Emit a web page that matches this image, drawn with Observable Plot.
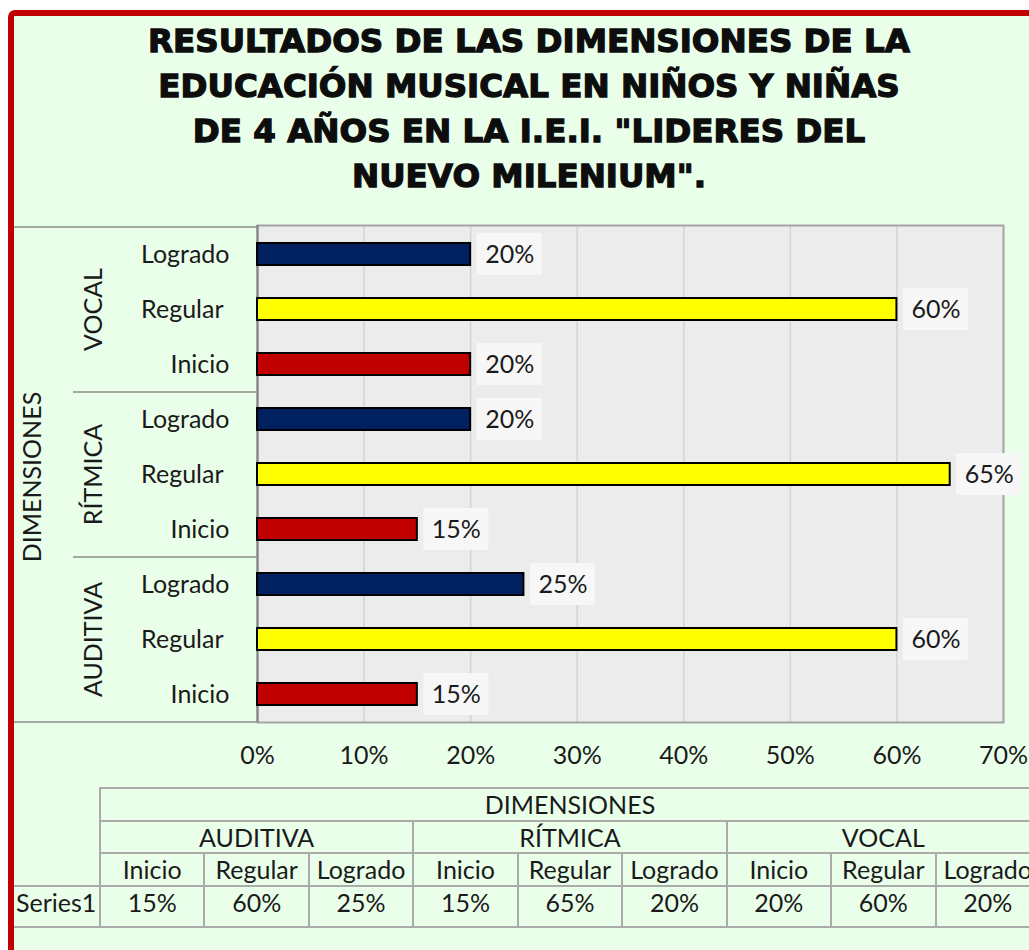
<!DOCTYPE html>
<html>
<head>
<meta charset="utf-8">
<script src="https://cdn.jsdelivr.net/npm/d3@7"></script>
<script src="https://cdn.jsdelivr.net/npm/@observablehq/plot@0.6"></script>
<style>
  html, body { margin: 0; padding: 0; }
  body { background: #ffffff; width: 1029px; height: 950px; overflow: hidden; position: relative; font-family: Lato, "Noto Sans", sans-serif; }
  #bg { position: absolute; left: 8px; top: 10px; width: 1100px; height: 1000px; background: #EAFFEA; border-top-left-radius: 7px; }
  #border { position: absolute; left: 8px; top: 10px; width: 1100px; height: 1000px; box-sizing: border-box;
            border-left: 6px solid #C00000; border-top: 6px solid #C00000; border-top-left-radius: 7px;
            pointer-events: none; z-index: 10; }
  #title { position: absolute; left: 14px; width: 1030px; top: 18.6px; text-align: center;
           font-family: "DejaVu Sans", sans-serif; font-weight: bold; font-size: 32.5px; line-height: 45.3px;
           color: #0d0d0d; -webkit-text-stroke: 1.3px #0d0d0d; white-space: nowrap; }
  #chart { position: absolute; left: 14px; top: 215px; }
  .cell { position: absolute; box-sizing: border-box; border: 2px solid #ABABAB; text-align: center;
          font-size: 25px; color: #1a1a1a; white-space: nowrap; overflow: hidden; }
</style>
</head>
<body>
<div id="bg"></div>
<div id="title"></div>
<div id="chart"></div>
<div id="table"></div>
<div id="border"></div>
<script>
// ---------- data ----------
const titleLines = [
  "RESULTADOS DE LAS DIMENSIONES DE LA",
  "EDUCACIÓN MUSICAL EN NIÑOS Y NIÑAS",
  "DE 4 AÑOS EN LA I.E.I. \"LIDERES DEL",
  "NUEVO MILENIUM\"."
];
const axisTitle = "DIMENSIONES";
const seriesName = "Series1";
const dimensions = ["AUDITIVA", "RÍTMICA", "VOCAL"];
const levels = ["Inicio", "Regular", "Logrado"];
const auditivaValues = [0.15, 0.60, 0.25];
const ritmicaValues = [0.15, 0.65, 0.20];
const vocalValues = [0.20, 0.60, 0.20];
const xTicks = [0, 0.1, 0.2, 0.3, 0.4, 0.5, 0.6, 0.7];
const levelColors = ["#C00000", "#FFFF00", "#002060"];

// ---------- build table ----------
const seriesByDim = [auditivaValues, ritmicaValues, vocalValues];
const rows = [];
dimensions.forEach((dim, di) => {
  levels.forEach((lev, li) => {
    rows.push({dim, level: lev, value: seriesByDim[di][li], key: dim + "|" + lev});
  });
});
const yDomain = rows.map(r => r.key).reverse(); // top to bottom: VOCAL Logrado ... AUDITIVA Inicio
const fmt = d3.format(".0%");

// ---------- title ----------
const titleEl = document.getElementById("title");
titleLines.forEach(t => { const d = document.createElement("div"); d.textContent = t; titleEl.appendChild(d); });

// ---------- chart ----------
const W = 1015, H = 565, mL = 243, mR = 26, mT = 10, mB = 58;
const plotW = W - mL - mR, plotH = H - mT - mB;
const pIn = 0.6, pOut = 0.3;
const step = plotH / (yDomain.length - pIn + 2 * pOut);
const groupTops = dimensions.map(d => d + "|" + levels[levels.length - 1]);
const innerTops = groupTops.filter(k => k !== yDomain[0]);
const lineStyle = {stroke: "#8C8C8C", strokeWidth: 1.5};

const chart = Plot.plot({
  width: W, height: H,
  marginLeft: mL, marginRight: mR, marginTop: mT, marginBottom: mB,
  style: {background: "transparent", fontFamily: "Lato, 'Noto Sans', sans-serif", fontSize: "25px", color: "#1a1a1a", overflow: "visible"},
  x: {domain: [0, 0.7], ticks: xTicks, tickFormat: fmt, tickSize: 0, tickPadding: 24, label: null},
  y: {domain: yDomain, paddingInner: pIn, paddingOuter: pOut, axis: null, label: null},
  color: {domain: levels, range: levelColors},
  marks: [
    Plot.frame({fill: "#ECECEC"}),
    Plot.ruleX(xTicks.slice(1, -1), {stroke: "#D4D4D4", strokeWidth: 1.5}),
    Plot.frame({stroke: "#A3A3A3", strokeWidth: 2}),
    Plot.ruleX([0], {stroke: "#7C887C", strokeWidth: 2}),
    // category axis separators
    Plot.ruleY([yDomain[0]], {y: d => d, dy: -step / 2, insetLeft: -mL, insetRight: plotW, ...lineStyle}),
    Plot.ruleY([yDomain[yDomain.length - 1]], {y: d => d, dy: step / 2, insetLeft: -mL, insetRight: plotW, ...lineStyle}),
    Plot.ruleY(innerTops, {y: d => d, dy: -step / 2, insetLeft: -(mL - 59), insetRight: plotW, ...lineStyle}),
    // bars
    Plot.barX(rows, {x: "value", y: "key", fill: "level", stroke: "#000000", strokeWidth: 2}),
    // label boxes
    Plot.barX(rows, {x1: "value", x2: "value", y: "key", fill: "#F7F7F7", insetLeft: 6.5, insetRight: -71.5, insetTop: -10, insetBottom: -10}),
    Plot.text(rows, {x: "value", y: "key", text: d => fmt(d.value), dx: 39, fill: "#1a1a1a"}),
    // category labels
    Plot.text(rows.filter(r => r.level !== "Regular"), {y: "key", text: "level", frameAnchor: "left", textAnchor: "end", dx: -28, fill: "#1a1a1a"}),
    Plot.text(rows.filter(r => r.level === "Regular"), {y: "key", text: "level", frameAnchor: "left", textAnchor: "end", dx: -34, fill: "#1a1a1a"}),
    // group labels
    Plot.text(dimensions, {y: d => d + "|" + levels[1], text: d => d, rotate: -90, frameAnchor: "left", textAnchor: "middle", dx: -164, fill: "#1a1a1a"}),
    Plot.text([axisTitle], {text: d => d, rotate: -90, frameAnchor: "left", textAnchor: "middle", dx: -225, dy: 3, fill: "#1a1a1a"})
  ]
});
document.getElementById("chart").appendChild(chart);

// ---------- data table ----------
const tableEl = document.getElementById("table");
const tLeft = 100, tRight = 1040;
const colW = (tRight - tLeft) / (dimensions.length * levels.length);
const rowTops = [788, 821, 853, 886, 927];
function cell(x0, x1, y0, y1, text, opts = {}) {
  const d = document.createElement("div");
  d.className = "cell";
  const h = y1 - y0;
  const pb = opts.padBottom || 0;
  d.style.left = (x0 - 1) + "px";
  d.style.top = (y0 - 1) + "px";
  d.style.width = (x1 - x0 + 2) + "px";
  d.style.height = (h + 2) + "px";
  d.style.lineHeight = (h - 2 - pb) + "px";
  if (pb) d.style.paddingBottom = pb + "px";
  if (opts.align) { d.style.textAlign = opts.align; d.style.paddingLeft = "2px"; }
  d.textContent = text;
  tableEl.appendChild(d);
}
cell(tLeft, tRight, rowTops[0], rowTops[1], axisTitle);
dimensions.forEach((dim, di) => {
  const gx0 = tLeft + di * levels.length * colW;
  cell(gx0, gx0 + levels.length * colW, rowTops[1], rowTops[2], dim);
  levels.forEach((lev, li) => {
    const cx0 = gx0 + li * colW;
    cell(cx0, cx0 + colW, rowTops[2], rowTops[3], lev);
    cell(cx0, cx0 + colW, rowTops[3], rowTops[4], fmt(seriesByDim[di][li]), {padBottom: 9});
  });
});
cell(13, tLeft, rowTops[3], rowTops[4], seriesName, {padBottom: 9, align: "left"});
</script>
</body>
</html>
